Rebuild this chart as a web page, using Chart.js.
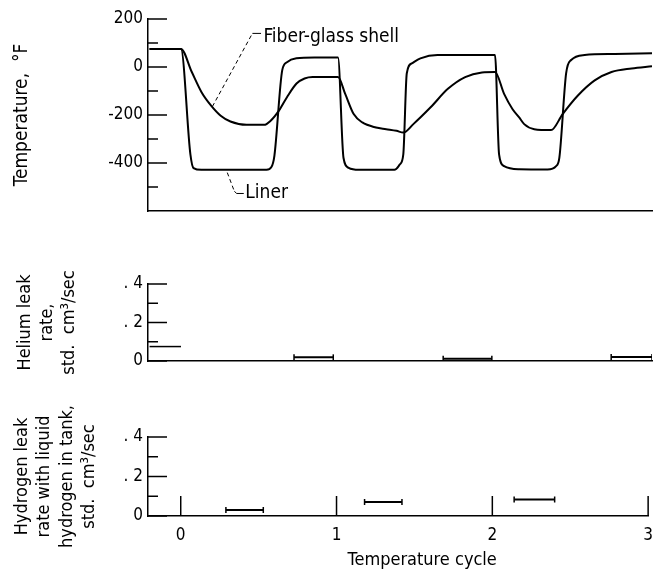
<!DOCTYPE html>
<html>
<head>
<meta charset="utf-8">
<script src="https://cdn.jsdelivr.net/npm/chart.js@4.4.0/dist/chart.umd.min.js"></script>
<style>
  html, body { margin: 0; padding: 0; background: #fff; }
  #wrap { position: relative; width: 662px; height: 571px; }
  .panel { position: absolute; left: 0; width: 662px; }
  #tempPanel { top: 0; height: 230px; }
  #heliumPanel { top: 240px; height: 140px; }
  #hydrogenPanel { top: 390px; height: 181px; }
</style>
</head>
<body>
<div id="wrap">
  <div class="panel" id="tempPanel"><canvas id="tempChart"></canvas></div>
  <div class="panel" id="heliumPanel"><canvas id="heliumChart"></canvas></div>
  <div class="panel" id="hydrogenPanel"><canvas id="hydrogenChart"></canvas></div>
</div>
<script>
// x axis
const cycleTicks = [0, 1, 2, 3];
const cycleLabels = ['0', '1', '2', '3'];

// temperature panel
const tempTicks = [-500, -400, -300, -200, -100, 0, 100, 200];
const tempLabels = ['', '-400', '', '-200', '', '0', '', '200'];

const linerCycle = [-0.2, 0, 0.06, 0.08, 0.13, 0.545, 0.575, 0.595, 0.645, 0.675, 0.735, 0.85, 1.0,
  1.035, 1.068, 1.133, 1.36, 1.394, 1.416, 1.438, 1.47, 1.525, 1.634, 2.0,
  2.026, 2.058, 2.154, 2.335, 2.389, 2.41, 2.453, 2.485, 2.571, 2.763, 3.0];
const linerTemp = [75, 75, -364, -421, -428, -428, -418, -370, -13, 20, 36, 40, 40,
  -378, -420, -428, -428, -406, -364, -27, 15, 36, 50, 50,
  -364, -413, -426, -427, -413, -378, -27, 29, 50, 54, 57];

const shellCycle = [-0.2, 0, 0.069, 0.131, 0.192, 0.253, 0.315, 0.417, 0.529, 0.571, 0.624, 0.675, 0.736, 0.787, 0.839, 1.0,
  1.046, 1.1, 1.155, 1.242, 1.307, 1.373, 1.416, 1.48, 1.59, 1.70, 1.81, 1.917, 2.0,
  2.058, 2.111, 2.154, 2.186, 2.25, 2.357, 2.431, 2.528, 2.635, 2.742, 2.87, 3.0];
const shellTemp = [75, 75, -21, -105, -161, -203, -227, -241, -241, -224, -182, -126, -69, -48, -42, -42,
  -112, -196, -231, -252, -259, -266, -273, -238, -168, -91, -42, -23, -21,
  -112, -175, -210, -238, -259, -263, -196, -119, -56, -21, -6, 3];

// leak panels
const leakTicks = [0, 0.1, 0.2, 0.3, 0.4];
const leakLabels = ['0', '', '. 2', '', '. 4'];

const heliumInitialCycle = [-0.2, 0];
const heliumInitialRate = 0.075;
const heliumFrom = [0.72, 1.67, 2.74];
const heliumTo = [0.97, 1.98, 3.0];
const heliumRate = [0.019, 0.012, 0.021];

const hydrogenFrom = [0.29, 1.18, 2.14];
const hydrogenTo = [0.53, 1.42, 2.40];
const hydrogenRate = [0.03, 0.071, 0.084];

const FONT = '"DejaVu Sans Condensed", "Liberation Sans Narrow", "Open Sans", sans-serif';
Chart.defaults.font.family = FONT;
Chart.defaults.font.size = 17;
Chart.defaults.color = '#000';

function toPoints(xs, ys) {
  return xs.map((x, i) => ({ x, y: ys[i] }));
}

function rangeSets(from, to, rate) {
  return from.map((f, i) => ({
    data: [{ x: f, y: rate[i] }, { x: to[i], y: rate[i] }],
    borderColor: '#000',
    borderWidth: 2,
    pointStyle: 'line',
    rotation: 90,
    pointRadius: 3,
    pointBorderWidth: 1.5,
    pointBorderColor: '#000'
  }));
}

function xAxis(showLabels) {
  return {
    type: 'linear',
    min: -0.21,
    max: 3,
    afterBuildTicks: (s) => { s.ticks = cycleTicks.map((v) => ({ value: v })); },
    afterFit: (s) => { s.height = showLabels ? 55 : 0; },
    grid: { display: false, drawTicks: false },
    border: { display: true, color: '#000', width: 1.5 },
    ticks: {
      display: showLabels,
      padding: 9,
      autoSkip: false,
      maxRotation: 0,
      callback: (v, i) => cycleLabels[i]
    }
  };
}

function yAxis(min, max, ticks, labels, title, size, lineHeight, pad) {
  return {
    type: 'linear',
    min,
    max,
    afterBuildTicks: (s) => { s.ticks = ticks.map((v) => ({ value: v })); },
    afterFit: (s) => { s.width = 148; },
    grid: { display: false, drawTicks: false },
    border: { display: true, color: '#000', width: 1.5 },
    ticks: { padding: 5, autoSkip: false, callback: (v, i) => labels[i] },
    title: {
      display: true,
      text: title,
      font: { size, lineHeight },
      padding: { top: pad, bottom: 0 }
    }
  };
}

// short tick marks drawn inward from the axes, like the original
const inwardTicks = {
  id: 'inwardTicks',
  afterDraw(chart, args, opts) {
    const { ctx, chartArea } = chart;
    const ys = chart.scales.y;
    ctx.save();
    ctx.strokeStyle = '#000';
    ctx.lineWidth = 1.5;
    ys.ticks.forEach((t) => {
      const py = ys.getPixelForValue(t.value);
      const len = t.label ? 19 : 10;
      ctx.beginPath();
      ctx.moveTo(chartArea.left, py);
      ctx.lineTo(chartArea.left + len, py);
      ctx.stroke();
    });
    if (opts.xTicks) {
      const xs = chart.scales.x;
      xs.ticks.forEach((t) => {
        const px = xs.getPixelForValue(t.value);
        ctx.beginPath();
        ctx.moveTo(px, chartArea.bottom);
        ctx.lineTo(px, chartArea.bottom - 20);
        ctx.stroke();
      });
    }
    if (opts.xTitle) {
      const xs = chart.scales.x;
      ctx.fillStyle = '#000';
      ctx.font = '18px ' + FONT;
      ctx.textAlign = 'center';
      ctx.textBaseline = 'middle';
      ctx.fillText(opts.xTitle, xs.getPixelForValue(1.55), chartArea.bottom + 44);
    }
    ctx.restore();
  }
};

// labels with leader lines on the temperature panel
const shellNote = { text: 'Fiber-glass shell', x: 0.525, y: 125, leader: [[0.2, -165], [0.455, 140]], tail: [[0.455, 140], [0.51, 140]] };
const linerNote = { text: 'Liner', x: 0.41, y: -527, leader: [[0.295, -440], [0.34, -518]], tail: [[0.34, -518], [0.355, -527], [0.4, -527]] };

const notes = {
  id: 'notes',
  afterDraw(chart) {
    const { ctx } = chart;
    const xs = chart.scales.x;
    const ys = chart.scales.y;
    const path = (pts) => {
      ctx.beginPath();
      pts.forEach(([x, y], i) => {
        const px = xs.getPixelForValue(x);
        const py = ys.getPixelForValue(y);
        if (i === 0) ctx.moveTo(px, py); else ctx.lineTo(px, py);
      });
      ctx.stroke();
    };
    ctx.save();
    ctx.strokeStyle = '#000';
    ctx.lineWidth = 1;
    [shellNote, linerNote].forEach((n) => {
      ctx.setLineDash([4, 3]);
      path(n.leader);
      ctx.setLineDash([]);
      path(n.tail);
      ctx.fillStyle = '#000';
      ctx.font = '19px ' + FONT;
      ctx.textAlign = 'left';
      ctx.textBaseline = 'middle';
      ctx.fillText(n.text, xs.getPixelForValue(n.x), ys.getPixelForValue(n.y));
    });
    ctx.restore();
  }
};

const baseOptions = {
  responsive: true,
  maintainAspectRatio: false,
  animation: false,
  plugins: { legend: { display: false }, tooltip: { enabled: false } },
  elements: { point: { radius: 0 } }
};

new Chart(document.getElementById('tempChart'), {
  type: 'line',
  data: {
    datasets: [
      { data: toPoints(linerCycle, linerTemp), borderColor: '#000', borderWidth: 2, cubicInterpolationMode: 'monotone', pointRadius: 0 },
      { data: toPoints(shellCycle, shellTemp), borderColor: '#000', borderWidth: 2, cubicInterpolationMode: 'monotone', pointRadius: 0 }
    ]
  },
  options: {
    ...baseOptions,
    layout: { padding: { top: 19, right: 10, bottom: 19, left: 0 } },
    scales: {
      x: xAxis(false),
      y: yAxis(-600, 200, tempTicks, tempLabels, 'Temperature,  \u00B0F', 19, 1.2, 11)
    }
  },
  plugins: [inwardTicks, notes]
});

new Chart(document.getElementById('heliumChart'), {
  type: 'line',
  data: {
    datasets: [
      { data: heliumInitialCycle.map((x) => ({ x, y: heliumInitialRate })), borderColor: '#000', borderWidth: 1.5, pointRadius: 0 },
      ...rangeSets(heliumFrom, heliumTo, heliumRate)
    ]
  },
  options: {
    ...baseOptions,
    layout: { padding: { top: 44, right: 10, bottom: 19, left: 0 } },
    scales: {
      x: xAxis(false),
      y: yAxis(0, 0.4, leakTicks, leakLabels, ['Helium leak', 'rate,', 'std.  cm\u00B3/sec'], 18, 1.2, 15)
    }
  },
  plugins: [inwardTicks]
});

new Chart(document.getElementById('hydrogenChart'), {
  type: 'line',
  data: {
    datasets: rangeSets(hydrogenFrom, hydrogenTo, hydrogenRate)
  },
  options: {
    ...baseOptions,
    layout: { padding: { top: 47, right: 10, bottom: 0, left: 0 } },
    scales: {
      x: xAxis(true),
      y: yAxis(0, 0.4, leakTicks, leakLabels, ['Hydrogen leak', 'rate with liquid', 'hydrogen in tank,', 'std.  cm\u00B3/sec'], 18, 1.25, 11)
    },
    plugins: {
      ...baseOptions.plugins,
      inwardTicks: { xTicks: true, xTitle: 'Temperature cycle' }
    }
  },
  plugins: [inwardTicks]
});
</script>
</body>
</html>
